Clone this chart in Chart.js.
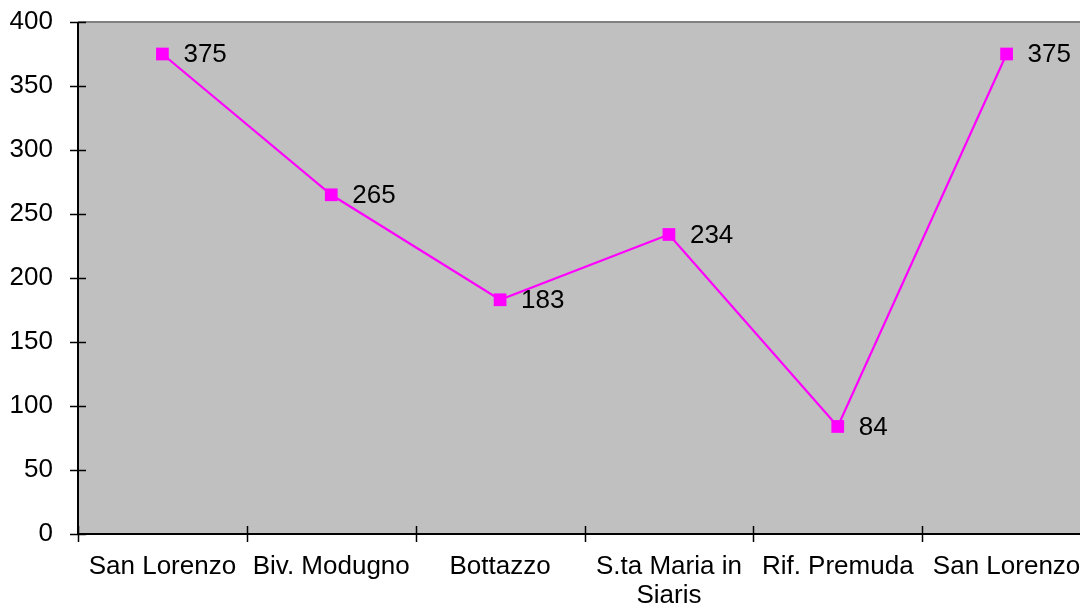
<!DOCTYPE html>
<html>
<head>
<meta charset="utf-8">
<script src="https://cdn.jsdelivr.net/npm/chart.js@4.4.1/dist/chart.umd.min.js"></script>
<style>
html,body{margin:0;padding:0;background:#fff;overflow:hidden;width:1080px;height:603px;}
#wrap{position:absolute;left:0;top:0;width:1100px;height:603px;}
</style>
</head>
<body>
<div id="wrap"><canvas id="c" width="1100" height="603"></canvas></div>
<script>
const categories = ['San Lorenzo', 'Biv. Modugno', 'Bottazzo', ['S.ta Maria in', 'Siaris'], 'Rif. Premuda', 'San Lorenzo'];
const values = [375, 265, 183, 234, 84, 375];
const yTicks = [0, 50, 100, 150, 200, 250, 300, 350, 400];

const FONT = "'Liberation Sans', Arial, sans-serif";
const FSIZE = 26;

const decor = {
  id: 'decor',
  beforeDraw(chart) {
    const {ctx, chartArea: a} = chart;
    ctx.save();
    ctx.fillStyle = '#C0C0C0';
    ctx.fillRect(a.left, a.top, a.right - a.left, a.bottom - a.top);
    ctx.restore();
  },
  afterDraw(chart) {
    const {ctx, chartArea: a} = chart;
    const xs = chart.scales.x, ys = chart.scales.y;
    ctx.save();
    ctx.strokeStyle = '#808080';
    ctx.lineWidth = 2;
    ctx.beginPath();
    ctx.moveTo(a.left, a.top);
    ctx.lineTo(a.right, a.top);
    ctx.lineTo(a.right, a.bottom);
    ctx.stroke();
    ctx.strokeStyle = '#000';
    ctx.lineWidth = 2;
    ctx.beginPath();
    ctx.moveTo(a.left, a.top);
    ctx.lineTo(a.left, a.bottom);
    ctx.lineTo(a.right, a.bottom);
    ctx.stroke();
    ctx.lineWidth = 1.5;
    ctx.beginPath();
    yTicks.forEach(v => {
      const y = Math.round(ys.getPixelForValue(v)) + 0.5;
      ctx.moveTo(a.left - 8, y);
      ctx.lineTo(a.left + 8, y);
    });
    const n = categories.length;
    const step = xs.getPixelForTick(1) - xs.getPixelForTick(0);
    for (let i = 0; i <= n; i++) {
      let px = (i < n) ? xs.getPixelForTick(i) - step / 2 : xs.getPixelForTick(n - 1) + step / 2;
      px = Math.round(px) + 0.5;
      ctx.moveTo(px, a.bottom - 8);
      ctx.lineTo(px, a.bottom + 8);
    }
    ctx.stroke();
    const meta = chart.getDatasetMeta(0);
    ctx.fillStyle = '#000';
    ctx.font = FSIZE + 'px ' + FONT;
    ctx.textAlign = 'left';
    ctx.textBaseline = 'middle';
    meta.data.forEach((pt, i) => {
      ctx.fillText(String(values[i]), pt.x + 21, pt.y + 1);
    });
    ctx.restore();
  }
};

new Chart(document.getElementById('c'), {
  type: 'line',
  data: {
    labels: categories,
    datasets: [{
      data: values,
      borderColor: '#FF00FF',
      backgroundColor: '#FF00FF',
      borderWidth: 2.2,
      pointStyle: 'rect',
      pointRadius: 9,
      pointHoverRadius: 9,
      pointBorderWidth: 0,
      tension: 0,
      fill: false,
      clip: false
    }]
  },
  options: {
    responsive: false,
    animation: false,
    events: [],
    layout: { padding: { top: 22, right: 2, left: 0, bottom: 0 } },
    plugins: { legend: { display: false }, tooltip: { enabled: false } },
    scales: {
      x: {
        type: 'category',
        offset: true,
        grid: { display: false },
        border: { display: false },
        ticks: {
          color: '#000',
          font: { family: FONT, size: FSIZE, lineHeight: 1.12 },
          padding: 10,
          maxRotation: 0,
          minRotation: 0,
          autoSkip: false
        },
        afterFit(s) { s.height = 69; s.paddingLeft = 0; s.paddingRight = 0; }
      },
      y: {
        min: 0,
        max: 400,
        afterBuildTicks(s) { s.ticks = yTicks.map(v => ({ value: v })); },
        grid: { display: false },
        border: { display: false },
        ticks: {
          color: '#000',
          font: { family: FONT, size: FSIZE },
          padding: 17
        },
        afterFit(s) { s.width = 78; s.paddingTop = 0; s.paddingBottom = 0; }
      }
    }
  },
  plugins: [decor]
});
</script>
</body>
</html>
